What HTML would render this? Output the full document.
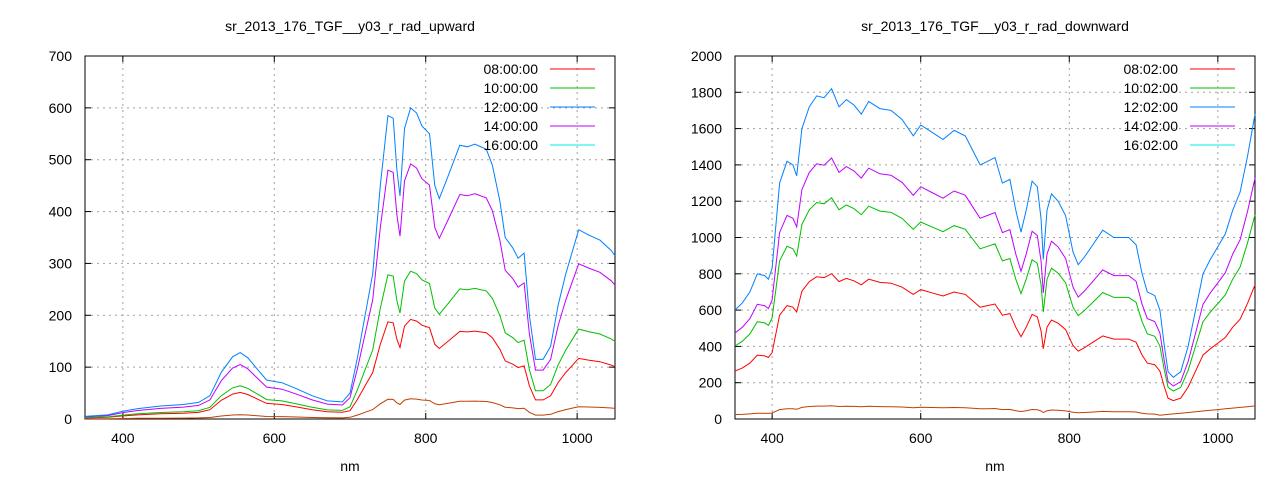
<!DOCTYPE html>
<html><head><meta charset="utf-8"><style>
body{margin:0;background:#fff}
svg text{font-family:"Liberation Sans",sans-serif;font-size:14px;fill:#000}
</style></head><body>
<svg id="s" width="1280" height="480" xmlns="http://www.w3.org/2000/svg"></svg>
<script>
const s=document.getElementById('s');let h='';
function plot(o){
 const X=nm=>o.x0+(nm-350)*(o.x1-o.x0)/700, Y=v=>419-v*363/o.ymax;
 for(let v=0;v<=o.ymax;v+=o.ystep){const y=Y(v);
  if(v>0&&v<o.ymax)h+=`<line x1="${o.x0}" x2="${o.x1}" y1="${y}" y2="${y}" stroke="#a0a0a0" stroke-dasharray="2,4"/>`;
  h+=`<line x1="${o.x0}" x2="${o.x0+6}" y1="${y}" y2="${y}" stroke="#000"/><line x1="${o.x1-6}" x2="${o.x1}" y1="${y}" y2="${y}" stroke="#000"/>`;
  h+=`<text x="${o.x0-13}" y="${y+5}" text-anchor="end">${v}</text>`;}
 for(let nm=400;nm<=1000;nm+=200){const x=X(nm);
  h+=`<line x1="${x}" x2="${x}" y1="56" y2="419" stroke="#a0a0a0" stroke-dasharray="2,4"/>`;
  h+=`<line x1="${x}" x2="${x}" y1="419" y2="413" stroke="#000"/><line x1="${x}" x2="${x}" y1="56" y2="62" stroke="#000"/>`;
  h+=`<text x="${x}" y="443" text-anchor="middle">${nm}</text>`;}
 h+=`<rect x="${o.x0}" y="56" width="${o.x1-o.x0}" height="363" fill="none" stroke="#000"/>`;
 h+=`<text x="${(o.x0+o.x1)/2}" y="31" text-anchor="middle">${o.title}</text>`;
 h+=`<text x="${(o.x0+o.x1)/2}" y="471" text-anchor="middle">nm</text>`;
 o.series.forEach(([col,f])=>{
  const pts=o.base.map(([nm,v])=>X(nm).toFixed(1)+','+Y(Math.max(0,f(nm,v))).toFixed(1)).join(' ');
  h+=`<polyline points="${pts}" fill="none" stroke="${col}" stroke-width="1"/>`;});
 o.leg.forEach((t,i)=>{const y=69+i*19;
  h+=`<text x="${o.lx}" y="${y+5}" text-anchor="end">${t}</text><line x1="${o.lx+12}" x2="${o.lx+57}" y1="${y}" y2="${y}" stroke="${o.lc[i]}"/>`;});
}
const L=[[350,5],[380,8],[400,15],[420,20],[450,25],[480,28],[500,32],[515,45],[530,90],[545,120],[555,128],[565,118],[580,92],[590,75],[610,70],[630,58],[650,45],[670,35],[690,33],[700,50],[710,120],[720,200],[730,280],[740,450],[750,585],[757,580],[762,480],[766,430],[772,560],[780,600],[788,590],[795,565],[805,550],[812,450],[818,425],[830,470],[845,528],[855,525],[865,530],[880,520],[888,490],[898,420],[905,350],[915,330],[922,310],[930,320],[937,200],[945,115],[955,115],[965,140],[975,220],[985,280],[995,330],[1002,365],[1015,355],[1030,345],[1045,325],[1050,315]];
const R=[[350,600],[360,640],[370,700],[380,800],[390,790],[395,770],[400,830],[410,1300],[420,1420],[428,1400],[433,1340],[440,1600],[450,1720],[460,1780],[470,1770],[480,1820],[490,1720],[500,1760],[510,1730],[520,1680],[530,1750],[545,1710],[560,1700],[575,1650],[590,1560],[600,1620],[615,1580],[630,1540],[645,1590],[660,1560],[670,1480],[680,1400],[690,1420],[700,1440],[710,1300],[720,1320],[728,1150],[735,1030],[742,1150],[750,1310],[757,1280],[762,1100],[765,880],[770,1150],[776,1240],[785,1200],[795,1120],[805,920],[812,850],[820,890],[830,950],[845,1040],[860,1000],[880,1000],[890,960],[898,800],[905,700],[915,680],[922,600],[928,400],[933,260],[940,230],[950,260],[960,400],[970,600],[980,800],[990,880],[1000,950],[1010,1020],[1020,1150],[1030,1250],[1040,1450],[1050,1680]];
plot({x0:85,x1:615,ymax:700,ystep:100,title:'sr_2013_176_TGF__y03_r_rad_upward',base:L,lx:538,
 leg:['08:00:00','10:00:00','12:00:00','14:00:00','16:00:00'],lc:['#ff0000','#00c000','#0080ff','#c000ff','#00eeee'],
 series:[['#c04000',(n,v)=>v*0.065],['#ff0000',(n,v)=>v*(n<700?0.4:0.32)],['#00c000',(n,v)=>v*(n<700?0.5:0.475)],['#c000ff',(n,v)=>v*0.82],['#0080ff',(n,v)=>v]]});
plot({x0:735,x1:1255,ymax:2000,ystep:200,title:'sr_2013_176_TGF__y03_r_rad_downward',base:R,lx:1178,
 leg:['08:02:00','10:02:00','12:02:00','14:02:00','16:02:00'],lc:['#ff0000','#00c000','#0080ff','#c000ff','#00eeee'],
 series:[['#c04000',(n,v)=>n>920?20+(n-920)*0.4:v*0.04],['#ff0000',(n,v)=>v*0.44],['#00c000',(n,v)=>v*0.67],['#c000ff',(n,v)=>v*0.79],['#0080ff',(n,v)=>v]]});
s.innerHTML=h;
</script>
</body></html>
